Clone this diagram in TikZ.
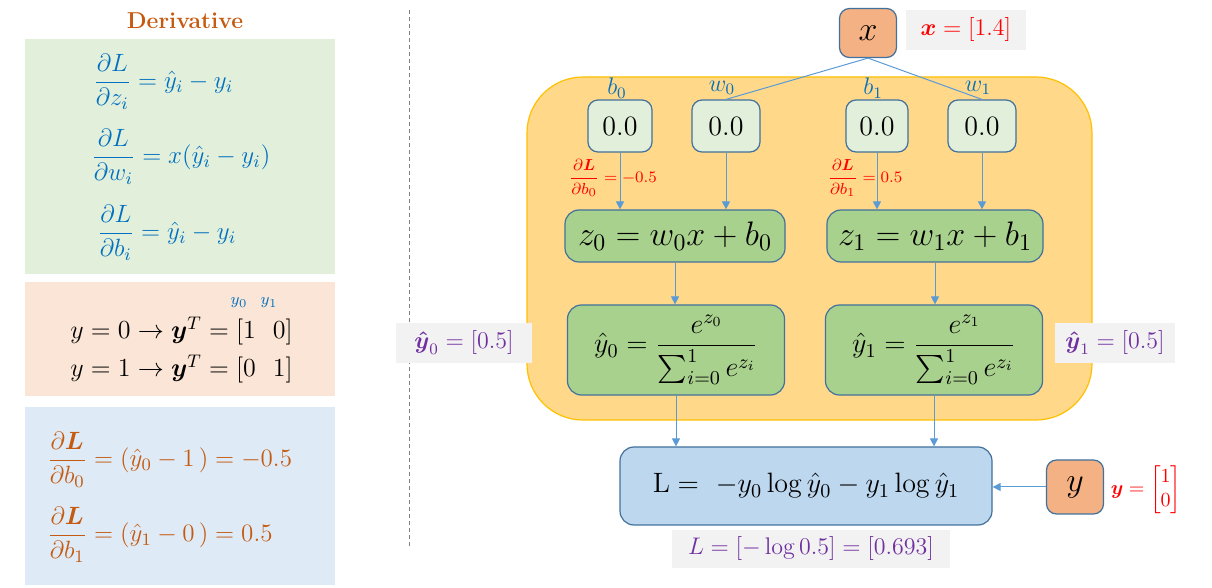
\documentclass[tikz,border=0pt]{standalone}
\usepackage{fix-cm}
\usepackage{amsmath}
\usepackage{amssymb}
\usepackage{tikz}
\usetikzlibrary{arrows.meta}
\definecolor{derivorange}{HTML}{C55A11}
\definecolor{mathblue}{HTML}{0070C0}
\definecolor{greenlt}{HTML}{E2EFDA}
\definecolor{peachlt}{HTML}{FBE5D6}
\definecolor{bluelt}{HTML}{DEEBF7}
\definecolor{panelorange}{HTML}{FFD88A}
\definecolor{panelline}{HTML}{FFC000}
\definecolor{boxblue}{HTML}{41719C}
\definecolor{greenmd}{HTML}{A9D18E}
\definecolor{salmon}{HTML}{F4B183}
\definecolor{lossblue}{HTML}{BDD7EE}
\definecolor{graybg}{HTML}{F2F2F2}
\definecolor{linkblue}{HTML}{5B9BD5}
\definecolor{valpurple}{HTML}{7030A0}

\begin{document}
\begin{tikzpicture}[x=0.5pt,y=0.5pt,
  every node/.append style={inner sep=0pt},
  parbox/.style={draw=boxblue, line width=0.6pt, fill=greenlt, rounded corners=5pt, minimum height=26pt, font=\fontsize{14}{16}\selectfont},
  calcbox/.style={draw=boxblue, line width=0.6pt, fill=greenmd, rounded corners=7pt},
  inbox/.style={draw=boxblue, line width=0.6pt, fill=salmon, rounded corners=5pt, font=\fontsize{17}{19}\selectfont},
  valbox/.style={fill=graybg, minimum height=20pt, font=\fontsize{12}{14}\selectfont},
  link/.style={draw=linkblue, line width=0.5pt},
  arr/.style={link, -{Triangle[width=4pt,length=4pt]}}]
\useasboundingbox (0,0) rectangle (1212,-588);
\node [font=\bfseries\fontsize{11.5}{13}\selectfont, text=derivorange] (title) at (185,-21) {Derivative};
\fill [greenlt] (25,-39) rectangle (335,-274);
\fill [peachlt] (25,-282) rectangle (335,-396);
\fill [bluelt] (25,-407) rectangle (335,-585);
\node [anchor=west, text=mathblue, font=\fontsize{12.5}{14}\selectfont] (dz) at (93,-82) {$\dfrac{\partial L}{\partial z_i} = \hat{y}_i - y_i$};
\node [anchor=west, text=mathblue, font=\fontsize{12.5}{14}\selectfont] (dw) at (91,-157) {$\dfrac{\partial L}{\partial w_i} = x(\hat{y}_i - y_i)$};
\node [anchor=west, text=mathblue, font=\fontsize{12.5}{14}\selectfont] (db) at (97,-233) {$\dfrac{\partial L}{\partial b_i} = \hat{y}_i - y_i$};
\node [text=mathblue, font=\fontsize{8}{9}\selectfont] (yz) at (239,-303) {$y_0$};
\node [text=mathblue, font=\fontsize{8}{9}\selectfont] (yo) at (269,-303) {$y_1$};
\node [anchor=west, font=\fontsize{13}{15}\selectfont] (yzero) at (70,-331) {$y = 0 \rightarrow \boldsymbol{y}^T = [1\ \ 0]$};
\node [anchor=west, font=\fontsize{13}{15}\selectfont] (yone) at (70,-369) {$y = 1 \rightarrow \boldsymbol{y}^T = [0\ \ 1]$};
\node [anchor=west, text=derivorange, font=\fontsize{12.5}{14}\selectfont] (gb0) at (47,-460) {$\dfrac{\partial \boldsymbol{L}}{\partial b_0} = (\hat{y}_0 - 1\,) = -0.5$};
\node [anchor=west, text=derivorange, font=\fontsize{12.5}{14}\selectfont] (gb1) at (47,-535) {$\dfrac{\partial \boldsymbol{L}}{\partial b_1} = (\hat{y}_1 - 0\,) = 0.5$};
\draw [gray, line width=0.4pt, dash pattern=on 2pt off 1.5pt] (409,-10) -- (409,-547);
\draw [fill=panelorange, draw=panelline, line width=0.6pt, rounded corners=28pt] (527,-77) rectangle (1092,-420);
\node [inbox, minimum width=28.5pt, minimum height=24.5pt] (x) at (868,-33) {$x$};
\node [valbox, minimum width=60pt, text=red] (xval) at (966,-30) {$\boldsymbol{x} = [1.4]$};
\node [text=mathblue, font=\fontsize{12}{14}\selectfont] (lb0) at (617,-88) {$b_0$};
\node [text=mathblue, font=\fontsize{12}{14}\selectfont] (lw0) at (722,-88) {$w_0$};
\node [text=mathblue, font=\fontsize{12}{14}\selectfont] (lb1) at (873,-88) {$b_1$};
\node [text=mathblue, font=\fontsize{12}{14}\selectfont] (lw1) at (978,-88) {$w_1$};
\node [parbox, minimum width=32pt] (b0) at (620,-126) {0.0};
\node [parbox, minimum width=34pt] (w0) at (726,-126) {0.0};
\node [parbox, minimum width=31pt] (b1) at (877,-126) {0.0};
\node [parbox, minimum width=34pt] (w1) at (982,-126) {0.0};
\node [calcbox, minimum width=110pt, minimum height=26pt, font=\fontsize{17}{19}\selectfont] (z0) at (675,-236) {$z_0 = w_0x + b_0$};
\node [calcbox, minimum width=108pt, minimum height=26pt, font=\fontsize{17}{19}\selectfont] (z1) at (935,-236) {$z_1 = w_1x + b_1$};
\node [text=red, font=\fontsize{8}{9}\selectfont] (g0) at (613,-178) {$\dfrac{\partial \boldsymbol{L}}{\partial b_0} = -0.5$};
\node [text=red, font=\fontsize{8}{9}\selectfont] (g1) at (865,-178) {$\dfrac{\partial \boldsymbol{L}}{\partial b_1} = 0.5$};
\node [calcbox, minimum width=108.5pt, minimum height=45pt, font=\fontsize{14}{16}\selectfont] (yh0) at (676,-350) {$\hat{y}_0 = \dfrac{e^{z_0}}{\sum_{i=0}^{1} e^{z_i}}$};
\node [calcbox, minimum width=108.5pt, minimum height=45pt, font=\fontsize{14}{16}\selectfont] (yh1) at (934,-350) {$\hat{y}_1 = \dfrac{e^{z_1}}{\sum_{i=0}^{1} e^{z_i}}$};
\node [valbox, minimum width=68pt, text=valpurple] (yh0val) at (464,-343) {$\boldsymbol{\hat{y}}_0 = [0.5]$};
\node [valbox, minimum width=60pt, text=valpurple] (yh1val) at (1115,-343) {$\boldsymbol{\hat{y}}_1 = [0.5]$};
\node [draw=boxblue, line width=0.6pt, fill=lossblue, rounded corners=7pt, minimum width=186pt, minimum height=39pt, font=\fontsize{14}{16}\selectfont] (L) at (806,-486) {$\mathrm{L} = \ -y_0\log\hat{y}_0 - y_1\log\hat{y}_1$};
\node [inbox, minimum width=28.5pt, minimum height=27pt] (y) at (1075,-487) {$y$};
\node [text=red, font=\fontsize{10}{12}\selectfont] (yval) at (1146,-490) {$\boldsymbol{y} = \begin{bmatrix}1\\0\end{bmatrix}$};
\node [valbox, minimum width=139pt, minimum height=19pt, text=valpurple] (Lval) at (811,-549) {$L = [-\log 0.5] = [0.693]$};
\draw [link] (x.south) -- (w0.north);
\draw [link] (x.south) -- (w1.north);
\draw [arr] (b0.south) -- (b0.south |- z0.north);
\draw [arr] (w0.south) -- (w0.south |- z0.north);
\draw [arr] (b1.south) -- (b1.south |- z1.north);
\draw [arr] (w1.south) -- (w1.south |- z1.north);
\draw [arr] (z0.south) -- (z0.south |- yh0.north);
\draw [arr] (z1.south) -- (z1.south |- yh1.north);
\draw [arr] (yh0.south) -- (yh0.south |- L.north);
\draw [arr] (yh1.south) -- (yh1.south |- L.north);
\draw [arr] (y.west) -- (y.west -| L.east);
\end{tikzpicture}
\end{document}
